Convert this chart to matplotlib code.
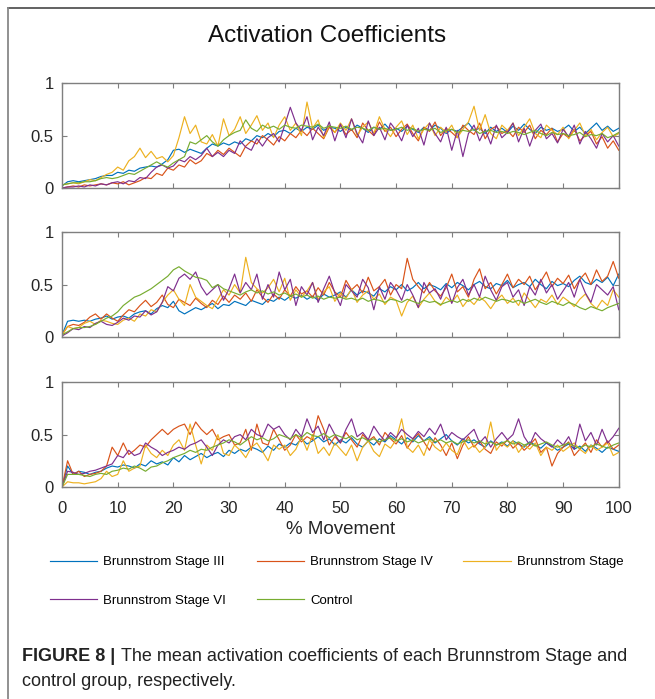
import numpy as np
import matplotlib
matplotlib.use("Agg")
import matplotlib.pyplot as plt
from matplotlib.lines import Line2D

plt.rcParams['font.family'] = ['Liberation Sans', 'DejaVu Sans']

# % movement, 0..100
movement = np.arange(0, 101)

labels = ['Brunnstrom Stage III', 'Brunnstrom Stage IV', 'Brunnstrom Stage',
          'Brunnstrom Stage VI', 'Control']
colors = ['#0072BD', '#D95319', '#EDB120', '#7E2F8E', '#77AC30']

# activation coefficients, in hundredths
# ---- panel 1 ----
p1_iii = [2, 6, 7, 6, 7, 8, 9, 11, 12, 12,
          15, 14, 17, 16, 19, 20, 21, 20, 23, 27,
          36, 37, 34, 37, 35, 33, 38, 42, 40, 43,
          41, 44, 42, 47, 45, 50, 48, 52, 49, 54,
          55, 52, 57, 54, 58, 56, 60, 55, 58, 57,
          54, 58, 55, 60, 57, 53, 58, 56, 61, 55,
          57, 54, 59, 56, 53, 58, 55, 60, 57, 52,
          56, 54, 58, 62, 55, 57, 52, 58, 54, 57,
          53, 59, 55, 61, 56, 52, 58, 55, 57, 54,
          56, 60, 54, 58, 52, 57, 62, 55, 59, 54,
          57]
p1_iv = [0, 1, 2, 1, 3, 2, 3, 4, 3, 5,
         4, 6, 3, 5, 7, 10, 9, 14, 12, 19,
         17, 22, 20, 27, 23, 26, 33, 30, 36, 32,
         38, 34, 30, 40, 45, 42, 50, 46, 41, 49,
         45, 52, 48, 55, 50, 57, 52, 47, 58, 53,
         60, 51, 56, 48, 62, 55, 50, 63, 54, 58,
         49, 56, 61, 52, 45, 58, 54, 63, 50, 57,
         53, 48, 60, 55, 51, 62, 47, 56, 59, 52,
         55, 49, 58, 53, 60, 47, 55, 51, 57, 44,
         52, 48, 56, 45, 50, 54, 42, 49, 38, 45,
         36]
p1_v = [3, 4, 5, 4, 6, 8, 7, 10, 13, 15,
        20, 17, 26, 30, 38, 29, 35, 28, 30, 25,
        31, 48, 68, 52, 60, 44, 42, 51, 40, 66,
        50, 56, 68, 52, 60, 69, 55, 62, 48, 60,
        68, 55, 62, 50, 82, 57, 65, 48, 60, 53,
        62, 55, 66, 50, 58, 63, 52, 68, 56, 49,
        58, 64, 51, 60, 47, 56, 62, 50, 58, 53,
        60, 48, 56, 63, 78, 55, 70, 52, 47, 60,
        55, 62, 50, 58, 66, 52, 48, 60, 55, 51,
        58, 47, 55, 62, 50, 56, 46, 53, 58, 49,
        52]
p1_vi = [0, 1, 1, 2, 1, 3, 2, 4, 3, 5,
         6, 4, 7, 6, 10, 9, 15, 20, 22, 19,
         21, 27, 25, 30, 27, 31, 38, 30, 34, 30,
         36, 33, 45, 39, 36, 47, 40, 48, 52, 44,
         60, 77, 62, 55, 68, 46, 58, 50, 63, 45,
         61, 48, 66, 52, 43, 64, 50, 58, 46, 62,
         55, 45, 60, 49, 57, 41, 62, 52, 44, 58,
         36, 55, 30, 52, 60, 45, 56, 42, 60, 48,
         53, 62, 44, 57, 40, 55, 61, 47, 52, 43,
         56, 49, 60, 42, 54, 47, 38, 52, 44, 50,
         40]
p1_ctrl = [3, 4, 5, 5, 6, 6, 7, 9, 10, 9,
           10, 12, 14, 13, 16, 19, 22, 25, 22, 20,
           24, 27, 30, 44, 42, 46, 50, 44, 40, 46,
           50, 53, 55, 65, 57, 54, 60, 57, 59, 56,
           60, 58, 57, 60, 59, 58, 61, 57, 59, 58,
           57, 59, 56, 58, 57, 55, 58, 56, 57, 55,
           56, 58, 55, 57, 54, 56, 55, 57, 53, 55,
           56, 53, 55, 54, 56, 52, 54, 55, 53, 54,
           52, 54, 53, 51, 53, 55, 52, 50, 53, 51,
           52, 50, 51, 53, 49, 51, 50, 52, 48, 50,
           53]

# ---- panel 2 ----
p2_iii = [2, 15, 16, 15, 16, 15, 17, 18, 20, 17,
          19, 20, 18, 22, 24, 25, 22, 27, 30, 28,
          34, 25, 22, 25, 28, 26, 29, 32, 27, 31,
          30, 34, 32, 30, 35, 33, 31, 36, 34, 38,
          35, 39, 37, 40, 36, 39, 35, 41, 38, 40,
          43, 38, 45, 40, 44, 42, 39, 46, 43, 48,
          45, 50, 44, 47, 52, 46, 50, 48, 45, 51,
          47, 52, 49, 45, 50, 53, 48, 46, 51, 49,
          54, 47, 50, 52, 48, 55, 50, 46, 53, 49,
          51, 48, 54, 58, 52, 50, 55, 52, 57, 49,
          60]
p2_iv = [2, 10, 12, 11, 14, 19, 22, 17, 22, 18,
         15, 21, 26, 24, 30, 35, 29, 33, 40, 31,
         28, 36, 33, 30, 37, 32, 28, 35, 31, 39,
         33, 40, 36, 42, 34, 45, 38, 33, 41, 36,
         45, 39, 48, 41, 44, 38, 47, 40, 52, 43,
         38, 54, 45, 50, 42, 57, 44, 48, 55, 40,
         50, 46, 75, 55, 48, 42, 52, 44, 39, 47,
         60, 43, 48, 38, 55, 65, 46, 52, 41, 50,
         60, 47, 55, 50, 58, 45, 53, 62, 48, 56,
         51, 59, 46, 55, 61, 50, 64, 53, 58, 72,
         56]
p2_v = [2, 10, 8, 9, 13, 15, 12, 16, 15, 13,
        12, 16, 18, 15, 22, 20, 26, 24, 33, 40,
        45, 36, 30, 50, 38, 34, 30, 27, 36, 45,
        40, 50, 42, 76, 52, 46, 42, 47, 55, 43,
        56, 35, 45, 38, 44, 52, 36, 43, 48, 34,
        42, 37, 46, 33, 40, 44, 36, 41, 31, 38,
        35, 20, 33, 39, 28, 36, 42, 34, 30, 38,
        33, 40, 29, 36, 31, 38, 34, 27, 35, 40,
        32, 37, 30, 42, 35, 28, 36, 33, 40, 31,
        38, 34, 29, 36, 41, 32, 27, 35, 30, 45,
        38]
p2_vi = [1, 4, 8, 7, 10, 9, 13, 15, 12, 11,
         14, 18, 16, 20, 19, 25, 21, 24, 33, 48,
         44, 56, 60, 55, 62, 48, 40, 45, 50, 35,
         46, 60, 42, 52, 45, 60, 36, 50, 38, 62,
         45, 55, 30, 48, 40, 52, 33, 46, 58, 42,
         30, 50, 44, 38, 55, 47, 26, 48, 36, 52,
         45, 35, 50, 40, 28, 52, 42, 46, 36, 50,
         32, 47, 55, 40, 50, 38, 58, 45, 35, 48,
         52, 38, 45, 30, 48, 40, 55, 42, 50, 36,
         44, 52, 38, 55, 42, 33, 50, 45, 40, 48,
         26]
p2_ctrl = [2, 5, 8, 9, 9, 10, 12, 15, 18, 20,
           24, 30, 34, 38, 40, 43, 46, 50, 54, 58,
           64, 67, 63, 60, 57, 56, 54, 47, 50, 46,
           44, 42, 40, 43, 45, 42, 44, 41, 43, 40,
           42, 39, 41, 38, 40, 37, 39, 36, 38, 37,
           38, 36, 37, 35, 37, 34, 36, 35, 33, 36,
           35, 33, 36, 34, 32, 35, 33, 34, 31, 33,
           35, 33, 36, 34, 37, 35, 38, 36, 34, 36,
           35, 33, 35, 32, 34, 36, 33, 31, 34, 32,
           30, 33, 31, 28, 26, 29, 27, 25, 28, 30,
           32]

# ---- panel 3 ----
p3_iii = [0, 20, 12, 15, 14, 12, 14, 15, 18, 20,
          19, 21, 20, 18, 22, 20, 25, 22, 24, 21,
          28, 24, 30, 26, 29, 32, 28, 31, 33, 29,
          35, 32, 36, 34, 38, 36, 33, 39, 35, 41,
          38, 42, 40, 46, 41, 44, 48, 43, 46, 40,
          45, 42, 47, 41, 38, 44, 40, 46, 43, 49,
          45, 41, 47, 43, 49, 44, 48, 42, 46, 50,
          44, 40, 46, 42, 45, 41, 38, 44, 40, 43,
          39, 44, 41, 38, 43, 40, 37, 42, 39, 35,
          38, 41, 36, 39, 34, 40, 37, 33, 38, 36,
          34]
p3_iv = [0, 25, 12, 15, 10, 12, 13, 15, 20, 38,
         30, 42, 31, 35, 40, 38, 45, 50, 55, 50,
         55, 58, 60, 50, 62, 55, 50, 55, 45, 48,
         50, 40, 42, 55, 35, 60, 42, 40, 55, 45,
         35, 40, 50, 43, 48, 45, 68, 55, 40, 48,
         42, 52, 45, 38, 50, 44, 48, 40, 52, 46,
         41, 49, 37, 45, 51, 43, 35, 47, 40, 30,
         42, 27, 40, 48, 38, 44, 36, 32, 43, 39,
         45, 37, 42, 35, 40, 46, 33, 38, 20, 32,
         38, 43, 30, 36, 42, 33, 45, 38, 44, 36,
         40]
p3_v = [0, 5, 4, 4, 3, 4, 5, 8, 15, 10,
        12, 25, 15, 18, 20, 40, 32, 28, 35, 30,
        40, 45, 35, 60, 40, 22, 40, 35, 50, 32,
        30, 40, 35, 28, 38, 42, 34, 25, 40, 36,
        40, 30, 36, 48, 35, 50, 32, 38, 30, 42,
        36, 30, 40, 25, 38, 44, 34, 29, 41, 37,
        45, 65, 38, 33, 40, 30, 45, 38, 34, 42,
        35, 31, 45, 36, 40, 33, 38, 62, 35, 42,
        38, 44, 33, 40, 36, 42, 30, 38, 35, 40,
        34, 38, 42, 36, 32, 40, 35, 38, 42, 30,
        33]
p3_vi = [0, 15, 14, 12, 13, 15, 16, 18, 20, 22,
         30, 28, 35, 30, 32, 42, 38, 35, 30, 33,
         35, 38, 36, 40, 42, 45, 38, 30, 40, 45,
         42, 48, 50, 45, 55, 50, 48, 60, 55, 58,
         50, 45, 55, 48, 65, 52, 58, 45, 60, 50,
         42, 55, 65, 48, 52, 45, 58, 50, 44, 52,
         47, 55, 50, 46, 53, 48, 56, 50, 60, 45,
         52, 48, 45, 50, 55, 42, 48, 38, 46, 52,
         45, 50, 65, 48, 40, 52, 46, 42, 38, 45,
         40, 48, 36, 60, 44, 52, 40, 55, 42, 48,
         56]
p3_ctrl = [0, 12, 12, 12, 11, 10, 12, 13, 12, 15,
           16, 18, 17, 20, 18, 15, 19, 20, 23, 25,
           28, 30, 32, 35, 33, 36, 35, 38, 40, 42,
           45, 43, 40, 44, 48, 45, 47, 44, 46, 50,
           48, 46, 50, 47, 52, 49, 48, 51, 47, 50,
           48, 46, 49, 45, 47, 44, 46, 43, 45, 47,
           44, 46, 43, 45, 42, 44, 46, 43, 45, 42,
           44, 41, 43, 45, 42, 44, 41, 43, 40, 42,
           44, 41, 43, 40, 42, 39, 41, 43, 40, 38,
           40, 42, 39, 37, 40, 38, 41, 39, 37, 40,
           42]

panels = [
    [p1_iii, p1_iv, p1_v, p1_vi, p1_ctrl],
    [p2_iii, p2_iv, p2_v, p2_vi, p2_ctrl],
    [p3_iii, p3_iv, p3_v, p3_vi, p3_ctrl],
]

fig = plt.figure(figsize=(6.55, 6.99), dpi=100)

axis_grey = '#7f7f7f'
text_col = '#262626'
bottoms = [0.7310, 0.5179, 0.3033]
axes = []
for i, series in enumerate(panels):
    ax = fig.add_axes([0.0947, bottoms[i], 0.850, 0.150])
    for vals, col in zip(series, colors):
        ax.plot(movement, np.array(vals) / 100.0, color=col, lw=0.85)
    ax.set_xlim(0, 100)
    ax.set_ylim(0, 1)
    ax.set_xticks(np.arange(0, 101, 10))
    ax.set_yticks([0, 0.5, 1])
    ax.set_yticklabels(['0', '0.5', '1'])
    ax.tick_params(direction='in', length=3.5, width=0.8, top=True, right=True,
                   colors=axis_grey, labelcolor=text_col, labelsize=12)
    ax.tick_params(axis='y', pad=6)
    ax.tick_params(axis='x', pad=10)
    for sp in ax.spines.values():
        sp.set_color(axis_grey)
        sp.set_linewidth(1.0)
    if i < 2:
        ax.tick_params(labelbottom=False)
    else:
        ax.set_xlabel('% Movement', fontsize=13.5, color=text_col, labelpad=4)
    axes.append(ax)

fig.text(0.5, 0.948, 'Activation Coefficients', ha='center', va='center',
         fontsize=17.5, color='#111111')

# legend, column-major: III, VI | IV, Control | V
hs = [Line2D([], [], color=c, lw=0.85) for c in colors]
order = [0, 3, 1, 4, 2]
fig.legend([hs[k] for k in order], [labels[k] for k in order],
           ncol=3, loc='upper left', bbox_to_anchor=(0.0763, 0.2045),
           frameon=False, handlelength=3.6, handletextpad=0.45,
           columnspacing=2.3, labelspacing=2.0, borderpad=0, borderaxespad=0,
           prop={'family': ['Liberation Sans', 'DejaVu Sans'], 'size': 9.5})

# caption
cap_font = ['Liberation Sans', 'DejaVu Sans']
b = fig.text(0.034, 0.0545, 'FIGURE 8 | ', fontsize=13, fontweight='bold',
             family=cap_font, color='#222222', va='baseline')
fig.canvas.draw()
ext = b.get_window_extent()
x1 = ext.x1 / fig.bbox.width
fig.text(x1, 0.0545, 'The mean activation coefficients of each Brunnstrom Stage and',
         fontsize=13, family=cap_font, color='#222222', va='baseline')
fig.text(0.034, 0.0185, 'control group, respectively.',
         fontsize=13, family=cap_font, color='#222222', va='baseline')

# frame lines of the figure box
fig.add_artist(Line2D([0.0115, 1.0], [0.9885, 0.9885], color='#555555', lw=1.3,
                      transform=fig.transFigure))
fig.add_artist(Line2D([0.0115, 0.0115], [0.0, 0.9885], color='#888888', lw=1.3,
                      transform=fig.transFigure))

fig.savefig('out.png', dpi=100)
